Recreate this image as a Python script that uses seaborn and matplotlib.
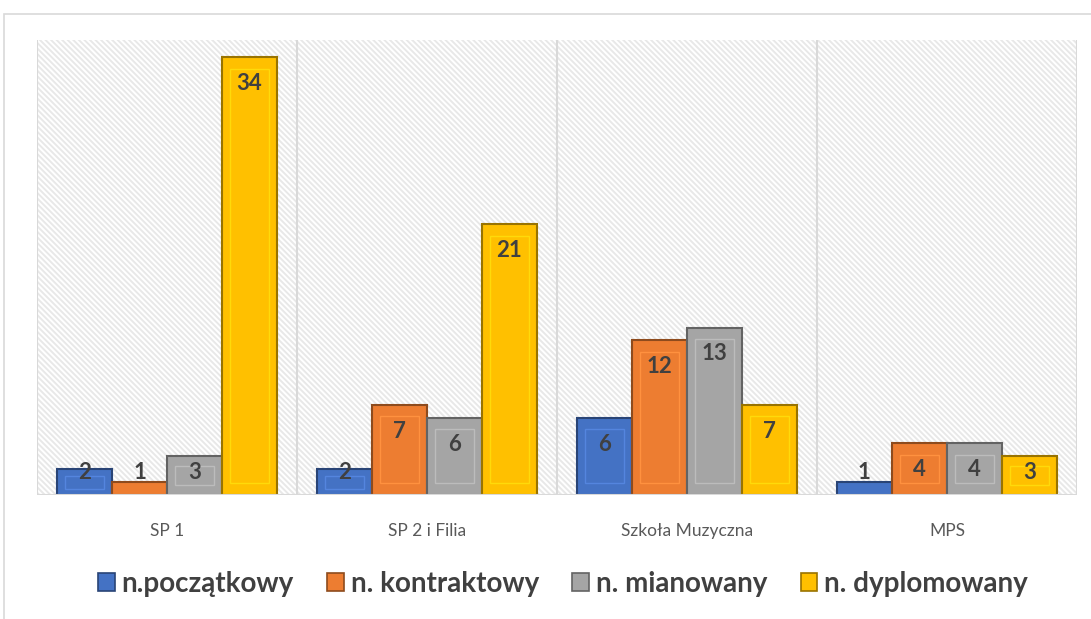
import matplotlib
matplotlib.use("Agg")
import matplotlib.pyplot as plt
import matplotlib.patches as mpatches
import matplotlib.colors as mcolors
import seaborn as sns
import pandas as pd

categories = ["SP 1", "SP 2 i Filia", "Szkoła Muzyczna", "MPS"]
series_names = ["n.początkowy", "n. kontraktowy", "n. mianowany", "n. dyplomowany"]
poczatkowy = [2, 2, 6, 1]
kontraktowy = [1, 7, 12, 4]
mianowany = [3, 6, 13, 4]
dyplomowany = [34, 21, 7, 3]
colors = ["#4472C4", "#ED7D31", "#A5A5A5", "#FFC000"]

values = [poczatkowy, kontraktowy, mianowany, dyplomowany]
rows = []
for s, vals in zip(series_names, values):
    for c, v in zip(categories, vals):
        rows.append({"cat": c, "series": s, "val": v})
df = pd.DataFrame(rows)

sns.set_theme(style="white")
plt.rcParams["font.family"] = ["Lato", "DejaVu Sans"]
plt.rcParams["hatch.linewidth"] = 1.4

fig = plt.figure(figsize=(10.91, 6.19), dpi=100)
ax = fig.add_axes([0.0339, 0.2003, 0.9532, 0.7347])

# outer frame
fig.patches.append(mpatches.Rectangle((4 / 1091, -0.01), 1.1, (619 - 14) / 619 + 0.01,
                                      transform=fig.transFigure, fill=False,
                                      edgecolor="#D9D9D9", linewidth=1.2, zorder=0))

sns.barplot(data=df, x="cat", y="val", hue="series", order=categories,
            hue_order=series_names, palette=colors, width=0.846, gap=0,
            ax=ax, legend=False, saturation=1, zorder=3)

ax.set_ylim(0, 35.3)
ax.set_xlim(-0.5, len(categories) - 0.5)

# hatched background + separators
for i in range(len(categories)):
    ax.add_patch(mpatches.Rectangle((i - 0.5, 0), 1, 35.3, facecolor="white",
                                    edgecolor="#E8E8E8", hatch="\\" * 6,
                                    linewidth=0, zorder=0))
for i in range(len(categories) + 1):
    ax.axvline(i - 0.5, color="#D9D9D9", linewidth=1.5, zorder=1)
ax.axhline(0, color="#D9D9D9", linewidth=1.5, zorder=4)

# bevel styling and labels
for j, cont in enumerate(ax.containers):
    base = mcolors.to_rgb(colors[j])
    dark = tuple(c * 0.6 for c in base)
    light = tuple(min(1, c * 1.08 + 0.04) for c in base)
    for bar, v in zip(cont, values[j]):
        bar.set_edgecolor(dark)
        bar.set_linewidth(1.5)
        x0, w, h = bar.get_x(), bar.get_width(), bar.get_height()
        ix = w * 0.14
        iy = min(h * 0.25, 0.9)
        if h > 1.5:
            ax.add_patch(mpatches.Rectangle((x0 + ix, iy), w - 2 * ix, h - 2 * iy,
                                            fill=False, edgecolor=light, linewidth=1.0, zorder=4))
        ypos = max(v - 2.05, 1.75)
        ax.text(x0 + w / 2, ypos, str(v), ha="center", va="center",
                fontsize=16, fontweight="bold", color="#404040", zorder=6)

ax.set_xlabel("")
ax.set_ylabel("")
ax.set_yticks([])
ax.tick_params(axis="x", length=0, labelsize=12.5, labelcolor="#595959", pad=20)
for sp in ax.spines.values():
    sp.set_visible(False)

handles = [mpatches.Patch(facecolor=c, edgecolor=tuple(x * 0.6 for x in mcolors.to_rgb(c)),
                          linewidth=1.2) for c in colors]
fig.legend(handles, series_names, loc="center", bbox_to_anchor=(0.516, 0.057),
           ncol=4, frameon=False, prop={"weight": "bold", "size": 20},
           handlelength=0.6, handleheight=0.6, handletextpad=0.25, columnspacing=1.2,
           labelcolor="#404040")

fig.savefig("out.png", dpi=100)
